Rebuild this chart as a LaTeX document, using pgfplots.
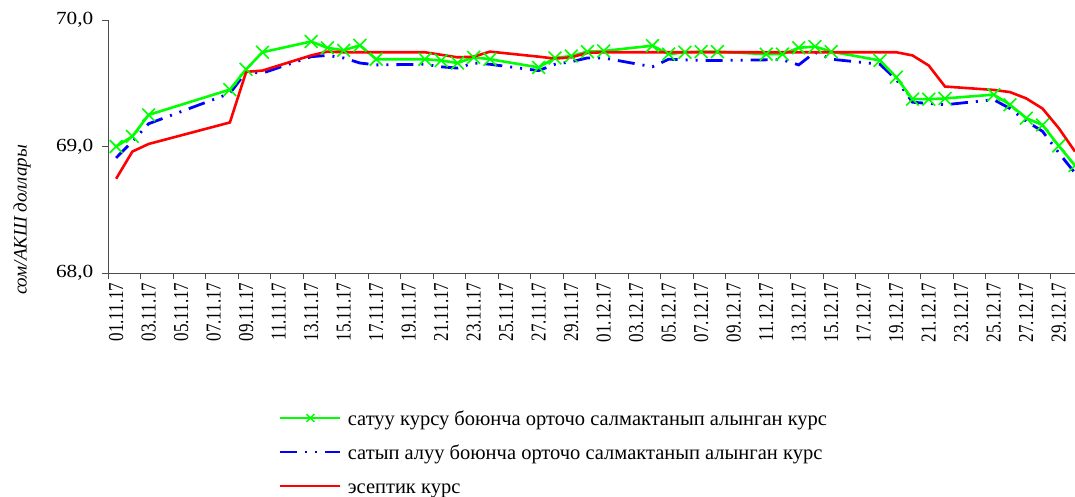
\documentclass[border=0pt]{standalone}
\usepackage{fontspec}
\setmainfont{Liberation Serif}
\usepackage{pgfplots}
\usepackage{pgfplotstable}
\pgfplotsset{compat=1.18}
\definecolor{cgreen}{RGB}{0,255,0}
\definecolor{cblue}{RGB}{0,0,255}
\definecolor{cred}{RGB}{255,0,0}
\pgfplotstableread{
x g b r
0 69.00 68.91 68.745
1 69.08 69.04 68.96
2 69.25 69.18 69.02
7 69.45 69.42 69.19
8 69.61 69.59 69.59
9 69.745 69.58 69.60
12 69.83 69.71 69.72
13 69.78 69.72 69.75
14 69.76 69.70 69.745
15 69.80 69.66 69.745
16 69.69 69.645 69.745
19 69.69 69.65 69.745
20 69.68 69.63 69.725
21 69.66 69.62 69.705
22 69.705 69.66 69.71
23 69.69 69.65 69.75
26 69.625 69.60 69.71
27 69.70 69.65 69.695
28 69.715 69.67 69.705
29 69.75 69.70 69.74
30 69.755 69.70 69.745
33 69.797 69.63 69.745
34 69.73 69.69 69.745
35 69.745 69.685 69.745
36 69.75 69.68 69.745
37 69.75 69.68 69.745
40 69.73 69.685 69.745
41 69.73 69.685 69.745
42 69.78 69.645 69.745
43 69.79 69.745 69.745
44 69.75 69.69 69.745
47 69.68 69.65 69.745
48 69.548 69.53 69.745
49 69.374 69.35 69.72
50 69.374 69.34 69.64
51 69.38 69.33 69.474
54 69.41 69.37 69.447
55 69.33 69.30 69.43
56 69.224 69.20 69.38
57 69.17 69.12 69.30
58 69.005 68.95 69.145
59 68.85 68.79 68.96
}\data
\begin{document}
\begin{tikzpicture}[x=1pt,y=1pt]
\path[use as bounding box] (0,0) rectangle (1075,497);
\begin{axis}[
  at={(108pt,224pt)}, anchor=south west,
  scale only axis, width=967pt, height=253pt,
  xmin=-0.5, xmax=59, ymin=68, ymax=70,
  axis lines=left, axis line style={-, draw=black!70, line width=0.8pt},
  tick align=outside, major tick length=6pt, minor tick length=6pt,
  tick style={black!70, line width=0.8pt},
  ytick={68,69,70}, yticklabels={{68,0},{69,0},{70,0}},
  y tick label style={font=\fontsize{18.5}{22}\selectfont, xscale=1.15, xshift=-4pt},
  xtick={0,2,...,58},
  xticklabels={01.11.17,03.11.17,05.11.17,07.11.17,09.11.17,11.11.17,13.11.17,15.11.17,17.11.17,19.11.17,21.11.17,23.11.17,25.11.17,27.11.17,29.11.17,01.12.17,03.12.17,05.12.17,07.12.17,09.12.17,11.12.17,13.12.17,15.12.17,17.12.17,19.12.17,21.12.17,23.12.17,25.12.17,27.12.17,29.12.17},
  major x tick style={draw=none},
  minor xtick={-0.5,1.5,...,57.5},
  x tick label style={rotate=90, yscale=1.25, anchor=east, font=\fontsize{17}{20}\selectfont},
  ylabel={сом/АКШ доллары},
  ylabel style={at={(axis description cs:-0.089,0.21)}, anchor=center, font=\itshape\fontsize{19}{22}\selectfont},
  legend image code/.code={
    \draw[#1] (0pt,0pt) -- (60pt,0pt);
    \draw[#1] plot coordinates {(30pt,0pt)};
  },
  legend cell align=left,
  legend style={at={(axis description cs:0.1769,-0.5375)}, anchor=north west,
    draw=none, fill=none, inner sep=0pt, outer sep=0pt,
    font=\fontsize{20.5}{25}\selectfont, row sep=16pt,
    nodes={inner sep=0pt, text height=17pt, text depth=1pt},
    /tikz/every odd column/.append style={column sep=6pt}},
]
\addlegendimage{color=cgreen, line width=2.6pt, mark=x, mark size=5.6pt, mark options={line width=1.4pt}}
\addlegendentry{сатуу курсу боюнча орточо салмактанып алынган курс}
\addlegendimage{color=cblue, line width=2.8pt, dash pattern=on 17pt off 8pt on 2pt off 8pt on 2pt off 8pt}
\addlegendentry{сатып алуу боюнча орточо салмактанып алынган курс}
\addlegendimage{color=cred, line width=2.6pt}
\addlegendentry{эсептик курс}
\addplot[forget plot, color=cblue, line width=2.8pt, dash pattern=on 17pt off 8pt on 2pt off 8pt on 2pt off 8pt] table[x=x,y=b]{\data};
\addplot[forget plot, color=cgreen, line width=2.6pt, mark=x, mark size=9pt, mark options={solid, line width=1.6pt}] table[x=x,y=g]{\data};
\addplot[forget plot, color=cred, line width=2.6pt] table[x=x,y=r]{\data};
\end{axis}
\end{tikzpicture}
\end{document}
